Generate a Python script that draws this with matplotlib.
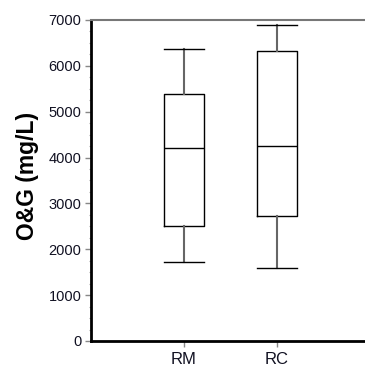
import matplotlib
matplotlib.use("Agg")
import matplotlib.pyplot as plt
from matplotlib.ticker import MultipleLocator

plt.rcParams['font.family'] = ['Liberation Sans', 'DejaVu Sans']

# box statistics
groups = ['RM', 'RC']
whislo = [1720, 1590]
q1 = [2515, 2720]
med = [4210, 4250]
q3 = [5395, 6325]
whishi = [6365, 6890]

stats = []
for i in range(len(groups)):
    stats.append({'label': groups[i], 'whislo': whislo[i], 'q1': q1[i],
                  'med': med[i], 'q3': q3[i], 'whishi': whishi[i], 'fliers': []})

fig = plt.figure(figsize=(3.65, 3.67), dpi=100)
# right edge of the axes runs past the figure, like the original
ax = fig.add_axes([91 / 365, 1 - 341 / 367, 279 / 365, 321 / 367])

ax.bxp(stats, positions=[1, 2], widths=0.42, showfliers=False,
       boxprops=dict(color='black', linewidth=1.0),
       medianprops=dict(color='black', linewidth=1.0),
       whiskerprops=dict(color='#666666', linewidth=1.5),
       capprops=dict(color='black', linewidth=1.0),
       capwidths=0.44)

ax.set_xlim(0, 3)
ax.set_ylim(0, 7000)
ax.yaxis.set_major_locator(MultipleLocator(1000))
ax.yaxis.set_minor_locator(MultipleLocator(250))
ax.set_xticks([1, 2])
ax.set_xticklabels(groups)

ax.tick_params(axis='y', which='major', labelsize=10.5, colors='#888888',
               labelcolor='#111122', length=4, width=1, pad=3)
ax.tick_params(axis='x', which='major', labelsize=12, colors='#888888',
               labelcolor='#111122', length=4, width=1, pad=4)
ax.tick_params(axis='y', which='minor', length=1.5, width=0.8, color='#aaaaaa')

ax.spines['left'].set_linewidth(2)
ax.spines['bottom'].set_linewidth(2)
ax.spines['top'].set_color('#777777')
ax.spines['top'].set_linewidth(1.5)
ax.spines['right'].set_visible(False)

ax.set_ylabel('O&G (mg/L)', fontsize=16.5, fontweight='bold')
ax.yaxis.set_label_coords(-0.185, 0.515)

fig.savefig('out.png', dpi=100)
